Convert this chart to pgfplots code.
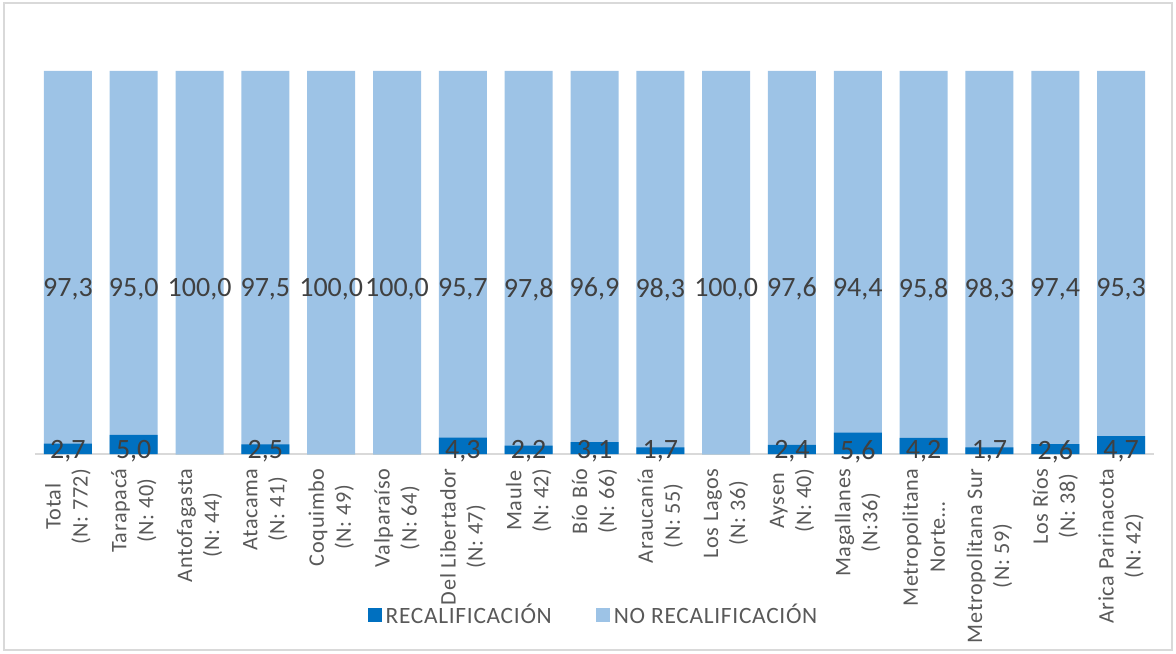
\documentclass[border=0pt]{standalone}
\usepackage{fontspec}
\setmainfont{Carlito}
\newfontfamily\spaced[LetterSpace=3]{Carlito}
\usepackage{pgfplots}
\usepackage{pgfplotstable}
\pgfplotsset{compat=1.18}
\definecolor{rec}{HTML}{0070C0}
\definecolor{norec}{HTML}{9DC3E6}
\definecolor{txt}{HTML}{595959}
\definecolor{val}{HTML}{404040}
\definecolor{marco}{HTML}{D9D9D9}

% porcentaje por region (recalificacion / no recalificacion)
\pgfplotstableread{
x rec norec
0 2.7 97.3
1 5.0 95.0
2 0.0 100.0
3 2.5 97.5
4 0.0 100.0
5 0.0 100.0
6 4.3 95.7
7 2.2 97.8
8 3.1 96.9
9 1.7 98.3
10 0.0 100.0
11 2.4 97.6
12 5.6 94.4
13 4.2 95.8
14 1.7 98.3
15 2.6 97.4
16 4.7 95.3
}\datos

\pgfkeys{/pgf/number format/.cd,fixed,fixed zerofill,precision=1,use comma,assume math mode=true}

\begin{document}
\begin{tikzpicture}
\useasboundingbox (0,0) rectangle (588pt,326.5pt);
\draw[marco,line width=0.8pt] (2pt,1.5pt) rectangle (586pt,325pt);
\begin{axis}[at={(17.5pt,99.5pt)},anchor=south west,scale only axis,
  width=559.5pt,height=191.5pt,
  xmin=-0.5,xmax=16.5,ymin=0,ymax=100,
  axis y line=none,axis x line*=bottom,
  x axis line style={marco,line width=0.8pt,-},
  xtick=data,major tick length=0pt,
  xticklabels={{Total\\(N: 772)},{Tarapacá\\(N: 40)},{Antofagasta\\(N: 44)},{Atacama\\(N: 41)},
    {Coquimbo\\(N: 49)},{Valparaíso\\(N: 64)},{Del Libertador\\(N: 47)},{Maule\\(N: 42)},
    {Bío Bío\\(N: 66)},{Araucanía\\(N: 55)},{Los Lagos\\(N: 36)},{Aysen\\(N: 40)},
    {Magallanes\\(N:36)},{Metropolitana\\Norte…},{Metropolitana Sur\\(N: 59)},
    {Los Ríos\\(N: 38)},{Arica Parinacota\\(N: 42)}},
  xticklabel style={rotate=90,anchor=east,align=center,text=txt,inner sep=0pt,
    font=\spaced\fontsize{11.1}{13.5}\selectfont},
  xticklabel shift=7pt,
  legend style={at={(0.5,-0.42)},anchor=center,draw=none,fill=none,legend columns=2,
    font=\spaced\fontsize{11.7}{13}\selectfont,text=txt,
    /tikz/every even column/.append style={column sep=20pt}},
  legend image code/.code={\fill[#1] (0pt,-3.6pt) rectangle (7pt,3.6pt);},
  reverse legend,
  ]
% barras: total (no recalificacion encima) y recalificacion desde la base
\addplot[ybar,bar width=24pt,bar shift=0pt,fill=norec,draw=none]
  table[x=x,y expr=\thisrow{rec}+\thisrow{norec}]{\datos};
\addlegendentry{NO RECALIFICACIÓN}
\addplot[ybar,bar width=24pt,bar shift=0pt,fill=rec,draw=none]
  table[x=x,y=rec]{\datos};
\addlegendentry{RECALIFICACIÓN}
% etiquetas de valores
\addplot[draw=none,mark=none,forget plot,point meta=explicit,
  nodes near coords={\pgfmathprintnumber{\pgfplotspointmeta}},
  every node near coord/.append style={anchor=center,text=val,font=\fontsize{14}{16}\selectfont}]
  table[x=x,y expr=43,meta=norec]{\datos};
\addplot[draw=none,mark=none,forget plot,point meta=explicit,
  nodes near coords={\pgfmathfloatifflags{\pgfplotspointmeta}{0}{}{\pgfmathprintnumber{\pgfplotspointmeta}}},
  every node near coord/.append style={anchor=center,text=val,font=\fontsize{14}{16}\selectfont}]
  table[x=x,y expr=0.6,meta=rec]{\datos};
\end{axis}
\end{tikzpicture}
\end{document}
